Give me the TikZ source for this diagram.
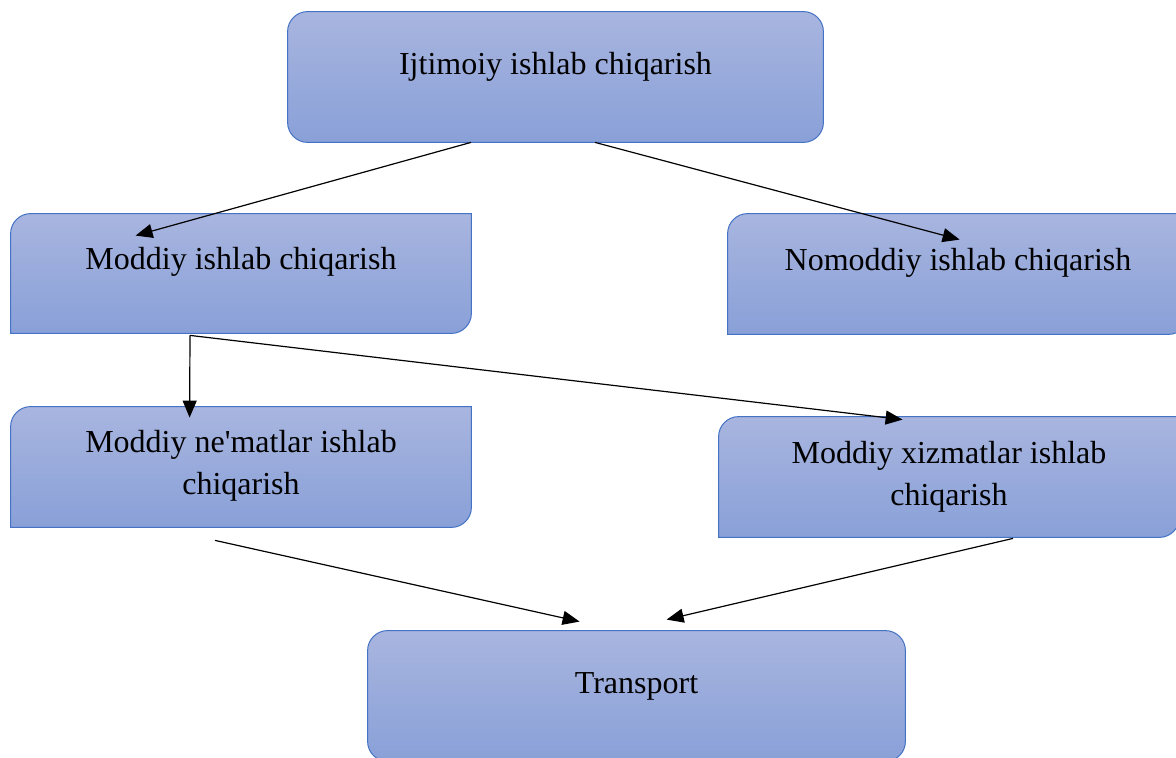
\documentclass[tikz,border=0pt]{standalone}
\usepackage{fontspec}
\setmainfont{Liberation Serif}
\usetikzlibrary{arrows.meta}
\usetikzlibrary{calc}
\definecolor{boxtop}{RGB}{168,181,223}
\definecolor{boxbot}{RGB}{137,160,216}
\definecolor{boxline}{RGB}{68,114,196}

\tikzset{
  blk/.style={rectangle, inner sep=0pt, draw=none},
  face/.style={top color=boxtop, bottom color=boxbot, draw=boxline, line width=0.5pt},
  lbl/.style={font=\fontsize{16}{21}\selectfont, align=center, anchor=base, inner sep=0pt},
  arr/.style={-{Triangle[length=8.5pt,width=7pt]}, line width=0.6pt},
}

% box with rounded top-left and bottom-right corners
\newcommand\rounddiag[1]{%
  \path[face] (#1.south west) -- ($(#1.north west)+(0,20)$)
    .. controls ($(#1.north west)+(0,9)$) and ($(#1.north west)+(9,0)$) .. ($(#1.north west)+(20,0)$)
    -- (#1.north east) -- ($(#1.south east)+(0,-20)$)
    .. controls ($(#1.south east)+(0,-9)$) and ($(#1.south east)+(-9,0)$) .. ($(#1.south east)+(-20,0)$)
    -- cycle;}
\newcommand\roundall[1]{%
  \path[face, rounded corners=10pt] (#1.north west) rectangle (#1.south east);}

\begin{document}
\begin{tikzpicture}[x=0.5pt, y=-0.5pt]
  \useasboundingbox (0,0) rectangle (1176,758);
  \clip (0,0) rectangle (1176,758);

  % boxes
  \node[blk, minimum width=267.5pt, minimum height=65pt] (ijt) at (555.5,77) {};
  \node[blk, minimum width=230pt, minimum height=59.5pt] (mod) at (241,273.5) {};
  \node[blk, minimum width=230pt, minimum height=60pt] (nom) at (958,274) {};
  \node[blk, minimum width=230pt, minimum height=60pt] (nem) at (241,467) {};
  \node[blk, minimum width=230pt, minimum height=60pt] (xiz) at (949,477) {};
  \node[blk, minimum width=268.5pt, minimum height=65pt] (tra) at (636.5,696) {};

  \roundall{ijt}
  \rounddiag{mod}
  \rounddiag{nom}
  \rounddiag{nem}
  \rounddiag{xiz}
  \roundall{tra}

  % labels (base = last line)
  \node[lbl] (ijt-t) at ($(ijt.north)+(0,63)$) {Ijtimoiy ishlab chiqarish};
  \node[lbl] (mod-t) at ($(mod.north)+(0,56)$) {Moddiy ishlab chiqarish};
  \node[lbl] (nom-t) at ($(nom.north)+(0,57)$) {Nomoddiy ishlab chiqarish};
  \node[lbl] (nem-t) at ($(nem.north)+(0,88)$) {Moddiy ne\textquotesingle matlar ishlab\\chiqarish};
  \node[lbl] (xiz-t) at ($(xiz.north)+(0,89)$) {Moddiy xizmatlar ishlab\\chiqarish};
  \node[lbl] (tra-t) at ($(tra.north)+(0,63)$) {Transport};

  % connectors
  \draw[arr] ($(ijt.south)+(-84.5,0)$) -- ($(mod.north west)+(125,22)$);
  \draw[arr] ($(ijt.south)+(39.5,0)$) -- ($(nom.north west)+(232,26)$);
  \draw[arr] ($(mod.south)+(-51,2)$) -- ($(nem.north west)+(179,11)$);
  \draw[arr] ($(mod.south)+(-51,2)$) -- ($(xiz.north west)+(184,3)$);
  \draw[arr] ($(nem.south)+(-26,13)$) -- ($(tra.north west)+(212,-9)$);
  \draw[arr] ($(xiz.south)+(64,1)$) -- ($(tra.north west)+(299,-11)$);
\end{tikzpicture}
\end{document}
